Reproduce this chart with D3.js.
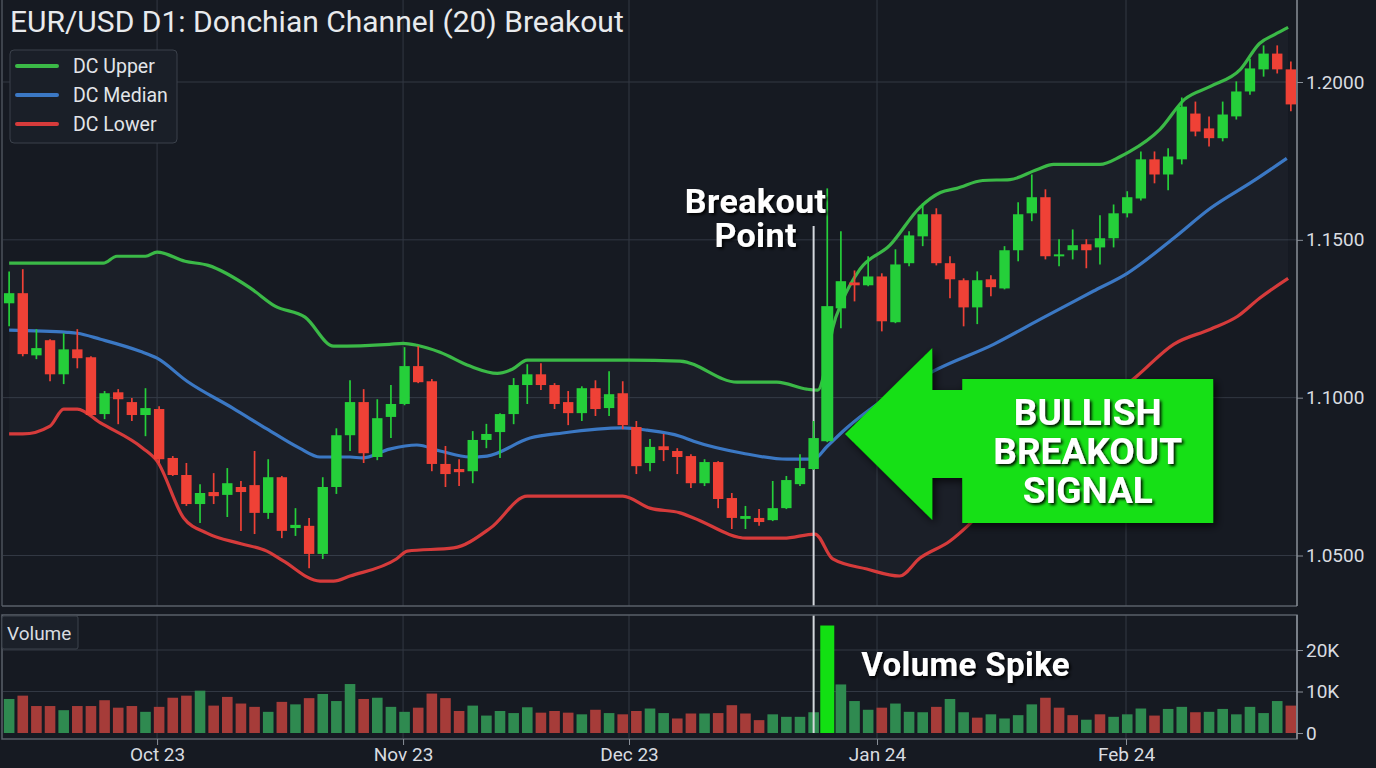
<!DOCTYPE html>
<html><head><meta charset="utf-8">
<script src="https://cdn.jsdelivr.net/npm/d3@7"></script>
<style>
html,body{margin:0;padding:0;background:#161a22;}
svg{display:block;font-family:Roboto,"Noto Sans",sans-serif;}
</style></head><body>
<svg id="chart" width="1376" height="768"></svg>
<script>
// ---------------- DATA ----------------
const opens = [1.1299,1.1331,1.1134,1.1182,1.1074,1.1153,1.1128,1.0948,1.1017,1.0986,1.0945,1.0964,1.0809,1.0755,1.0663,1.0701,1.0692,1.0717,1.0723,1.0635,1.0748,1.0587,1.0594,1.0505,1.0717,1.0881,1.0986,1.0812,1.0939,1.0980,1.1100,1.1052,1.0790,1.0774,1.0767,1.0866,1.0891,1.0948,1.1040,1.1074,1.1040,1.0986,1.0951,1.1030,1.0967,1.1014,1.0907,1.0793,1.0846,1.0831,1.0815,1.0729,1.0796,1.0682,1.0616,1.0619,1.0612,1.0650,1.0726,1.0774,1.0862,1.1283,1.1365,1.1356,1.1384,1.1239,1.1426,1.1511,1.1581,1.1426,1.1372,1.1286,1.1375,1.1346,1.1467,1.1584,1.1635,1.1451,1.1467,1.1486,1.1476,1.1505,1.1584,1.1631,1.1755,1.1707,1.1755,1.1900,1.1853,1.1822,1.1891,1.1970,1.2040,1.2090,1.2040];
const highs = [1.1400,1.1407,1.1217,1.1185,1.1204,1.1217,1.1131,1.1021,1.1027,1.0999,1.1030,1.0973,1.0815,1.0793,1.0726,1.0761,1.0777,1.0736,1.0831,1.0805,1.0752,1.0650,1.0619,1.0748,1.0903,1.1055,1.1027,1.0995,1.1040,1.1160,1.1163,1.1059,1.0847,1.0805,1.0894,1.0917,1.0951,1.1062,1.1106,1.1109,1.1046,1.1021,1.1036,1.1055,1.1084,1.1052,1.0926,1.0869,1.0885,1.0840,1.0821,1.0805,1.0799,1.0698,1.0657,1.0647,1.0736,1.0752,1.0821,1.0926,1.1663,1.1527,1.1403,1.1448,1.1394,1.1470,1.1527,1.1616,1.1600,1.1448,1.1378,1.1400,1.1388,1.1480,1.1619,1.1707,1.1660,1.1502,1.1533,1.1502,1.1578,1.1612,1.1654,1.1780,1.1780,1.1790,1.1951,1.1938,1.1891,1.1938,1.2002,1.2074,1.2116,1.2116,1.2065];
const lows = [1.1226,1.1131,1.1122,1.1052,1.1043,1.1093,1.0942,1.0932,1.0916,1.0926,1.0878,1.0793,1.0752,1.0657,1.0603,1.0663,1.0622,1.0578,1.0568,1.0616,1.0555,1.0562,1.0460,1.0489,1.0695,1.0831,1.0793,1.0802,1.0872,1.0976,1.1046,1.0767,1.0717,1.0720,1.0729,1.0840,1.0809,1.0916,1.0980,1.1024,1.0964,1.0913,1.0926,1.0942,1.0942,1.0900,1.0758,1.0767,1.0799,1.0758,1.0714,1.0720,1.0650,1.0584,1.0584,1.0594,1.0609,1.0647,1.0720,1.0771,1.0859,1.1220,1.1305,1.1353,1.1210,1.1236,1.1416,1.1480,1.1419,1.1315,1.1226,1.1233,1.1321,1.1343,1.1432,1.1559,1.1438,1.1416,1.1438,1.1410,1.1422,1.1476,1.1571,1.1625,1.1679,1.1657,1.1739,1.1828,1.1796,1.1812,1.1881,1.1960,1.2017,1.2027,1.1907];
const closes = [1.1331,1.1138,1.1157,1.1074,1.1153,1.1125,1.0945,1.1014,1.0995,1.0945,1.0967,1.0805,1.0755,1.0663,1.0698,1.0688,1.0729,1.0701,1.0635,1.0748,1.0578,1.0597,1.0505,1.0717,1.0881,1.0986,1.0824,1.0935,1.0980,1.1100,1.1049,1.0790,1.0758,1.0764,1.0866,1.0885,1.0948,1.1040,1.1074,1.1040,1.0980,1.0951,1.1030,1.0964,1.1011,1.0913,1.0783,1.0844,1.0834,1.0812,1.0729,1.0796,1.0679,1.0619,1.0625,1.0606,1.0650,1.0739,1.0777,1.0872,1.1290,1.1369,1.1356,1.1384,1.1242,1.1422,1.1514,1.1581,1.1426,1.1375,1.1286,1.1372,1.1350,1.1467,1.1581,1.1635,1.1448,1.1454,1.1483,1.1467,1.1505,1.1584,1.1635,1.1755,1.1707,1.1764,1.1922,1.1843,1.1822,1.1897,1.1970,1.2043,1.2090,1.2040,1.1929];
const volumes = [8200,9000,6500,6500,5500,6500,6500,7900,6100,6500,5100,6300,8500,9000,10200,6600,8700,7100,6300,5100,7500,6900,8400,9400,7700,11800,8200,8500,6300,5100,6100,9500,8400,5300,6600,4200,5300,4800,6200,4900,5300,4900,4500,5600,4800,4500,5300,5900,4800,3500,4700,4700,4800,6700,4700,3100,4500,3900,3900,5000,25900,11700,7700,5600,6100,7100,5100,5000,6300,8200,5000,3700,4500,3500,4300,6900,8500,6100,4300,3200,4500,3900,4500,5900,4200,5800,6300,5000,5100,5800,4500,6300,4800,7700,6600];
const volumeUp = [1,0,0,0,1,0,0,0,0,0,1,0,0,0,1,0,0,0,0,1,0,1,0,1,1,1,0,1,1,1,0,0,0,0,1,1,1,1,1,0,0,0,1,0,1,0,0,1,1,0,0,1,0,0,0,0,1,1,1,1,1,1,1,1,0,1,1,1,0,1,1,0,1,1,1,1,0,0,0,1,0,1,1,1,0,1,1,0,1,1,1,1,1,1,0];
// Donchian lines: [candle index, price]
const dcUpper = [[0,1.1426],[6.9,1.1426],[7.9,1.1448],[10.0,1.1448],[10.85,1.1461],[12.9,1.1432],[14.6,1.1419],[17.7,1.1347],[19.5,1.1290],[21.7,1.1255],[23.8,1.1163],[27.9,1.1169],[28.9,1.1172],[29.9,1.1166],[31.6,1.1144],[33.8,1.1100],[35.8,1.1077],[36.9,1.1090],[38.0,1.1119],[45.5,1.1119],[49.2,1.1116],[53.4,1.1049],[56.3,1.1049],[58.5,1.1027],[59.3,1.1024],[60.0,1.1125],[60.4,1.1220],[61.1,1.1305],[62.4,1.1407],[64.6,1.1483],[66.8,1.1603],[68.3,1.1650],[69.5,1.1663],[71.4,1.1688],[73.4,1.1691],[75.4,1.1723],[76.6,1.1739],[80.0,1.1739],[81.5,1.1764],[82.2,1.1780],[84.4,1.1850],[86.2,1.1945],[88.1,1.1986],[90.3,1.2040],[91.7,1.2122],[92.8,1.2150],[93.8,1.2173]];
const dcMedian = [[0,1.1214],[4.25,1.1207],[5.0,1.1204],[6.7,1.1185],[9.6,1.1147],[10.85,1.1125],[13.05,1.1052],[16.4,1.0967],[18.9,1.0901],[21.3,1.0840],[22.8,1.0812],[25.0,1.0812],[25.9,1.0809],[27.9,1.0837],[29.9,1.0850],[31.6,1.0831],[33.8,1.0812],[35.05,1.0815],[38.2,1.0872],[40.6,1.0888],[45.0,1.0904],[46.8,1.0897],[49.2,1.0878],[50.2,1.0862],[53.8,1.0824],[57.05,1.0805],[59.0,1.0805],[60.0,1.0846],[61.4,1.0903],[63.65,1.0979],[68.05,1.1090],[72.2,1.1169],[75.6,1.1248],[79.5,1.1337],[82.0,1.1394],[85.4,1.1505],[88.1,1.1600],[91.2,1.1685],[93.7,1.1758]];
const dcLower = [[0,1.0885],[1.0,1.0885],[3.0,1.0910],[4.0,1.0964],[5.0,1.0964],[6.7,1.0920],[9.8,1.0840],[10.85,1.0799],[12.8,1.0619],[14.5,1.0571],[17.0,1.0537],[18.9,1.0514],[20.1,1.0483],[22.8,1.0419],[23.8,1.0419],[25.0,1.0435],[28.4,1.0489],[29.2,1.0514],[32.6,1.0524],[35.3,1.0587],[38.0,1.0688],[45.0,1.0688],[47.0,1.0650],[49.2,1.0635],[50.2,1.0619],[54.1,1.0555],[56.8,1.0555],[59.1,1.0568],[60.4,1.0489],[62.9,1.0457],[65.3,1.0435],[66.8,1.0492],[69.0,1.0546],[70.3,1.0594],[72.7,1.0704],[76.3,1.0847],[80.0,1.0973],[82.7,1.1068],[85.4,1.1169],[88.1,1.1217],[90.1,1.1258],[91.7,1.1315],[93.8,1.1378]];
const priceTicks = [1.05, 1.10, 1.15, 1.20];
const volumeTicks = [0, 10000, 20000];
const monthTickIndex = [10.85, 28.89, 45.46, 63.65, 81.91];
const monthTickLabels = ["Oct 23", "Nov 23", "Dec 23", "Jan 24", "Feb 24"];
const legendLabels = ["DC Upper", "DC Median", "DC Lower"];
const titleText = "EUR/USD D1: Donchian Channel (20) Breakout";
const breakoutIndex = 59;
const spikeIndex = 60;
const signalLines = ["BULLISH", "BREAKOUT", "SIGNAL"];
// annotation anchor (data units)
const arrowTip = {i: 61.3, p: 1.0885};
const arrowHeadBase = 67.7;
const signalBox = {i0: 69.9, i1: 88.3, pTop: 1.1059, pBottom: 1.0603};

// ---------------- STYLE ----------------
const C = {
  bg: "#161a22", grid: "#323843", border: "#5a606a", axis: "#8a9099", text: "#d9dce0",
  up: "#25cf3a", down: "#ef4136", volUp: "#2f8a50", volDown: "#a63c39", spike: "#12e012",
  upper: "#3bb947", median: "#3b78c4", lower: "#d63b3b", arrow: "#12e012"
};
const W = 1376, H = 768;
const L = 3, R = 1297, mainTop = 0, mainBottom = 606, volTop = 615, volBottom = 739;

const svg = d3.select("#chart");
const defs = svg.append("defs");
const ts = defs.append("filter").attr("id","ts").attr("x","-20%").attr("y","-40%").attr("width","140%").attr("height","180%");
ts.append("feDropShadow").attr("dx",2).attr("dy",2).attr("stdDeviation",1.8).attr("flood-color","#000").attr("flood-opacity",0.95);
const as = defs.append("filter").attr("id","as").attr("x","-20%").attr("y","-20%").attr("width","140%").attr("height","140%");
as.append("feDropShadow").attr("dx",3).attr("dy",3).attr("stdDeviation",4).attr("flood-color","#000").attr("flood-opacity",0.75);
defs.append("clipPath").attr("id","mainClip").append("rect").attr("x",L).attr("y",mainTop).attr("width",R-L).attr("height",mainBottom-mainTop);
defs.append("clipPath").attr("id","volClip").append("rect").attr("x",L).attr("y",volTop).attr("width",R-L).attr("height",volBottom-volTop);

svg.append("rect").attr("width",W).attr("height",H).attr("fill",C.bg);

const x = d3.scaleLinear().domain([-0.45, 94.45]).range([L, R]);
const y = d3.scaleLinear().domain([1.05, 1.20]).range([555.5, 82]);
const yv = d3.scaleLinear().domain([0, 20000]).range([733, 650]);

// ---------------- GRID ----------------
const grid = svg.append("g");
grid.selectAll(".hg").data(priceTicks).join("line")
  .attr("x1",L).attr("x2",R).attr("y1",d=>y(d)).attr("y2",d=>y(d)).attr("stroke",C.grid).attr("stroke-width",1);
grid.selectAll(".vg").data(monthTickIndex).join("line")
  .attr("x1",d=>x(d)).attr("x2",d=>x(d)).attr("y1",mainTop).attr("y2",mainBottom).attr("stroke",C.grid).attr("stroke-width",1);
grid.selectAll(".vhg").data(volumeTicks.filter(d=>d>0)).join("line")
  .attr("x1",L).attr("x2",R).attr("y1",d=>yv(d)).attr("y2",d=>yv(d)).attr("stroke",C.grid).attr("stroke-width",1);
grid.selectAll(".vvg").data(monthTickIndex).join("line")
  .attr("x1",d=>x(d)).attr("x2",d=>x(d)).attr("y1",volTop).attr("y2",volBottom).attr("stroke",C.grid).attr("stroke-width",1);

// ---------------- MAIN PANEL ----------------
const main = svg.append("g").attr("clip-path","url(#mainClip)");
const lineGen = d3.line().x(d=>x(d[0])).y(d=>y(d[1])).curve(d3.curveMonotoneX);
const poly = dcUpper.concat(dcLower.slice().reverse());
main.append("path").attr("d", d3.line().x(d=>x(d[0])).y(d=>y(d[1]))(poly) + "Z")
  .attr("fill","#8ea3c0").attr("fill-opacity",0.045);

main.append("path").attr("d",lineGen(dcUpper)).attr("fill","none").attr("stroke",C.upper).attr("stroke-width",3.2).attr("stroke-linejoin","round");
main.append("path").attr("d",lineGen(dcMedian)).attr("fill","none").attr("stroke",C.median).attr("stroke-width",3.2).attr("stroke-linejoin","round");
main.append("path").attr("d",lineGen(dcLower)).attr("fill","none").attr("stroke",C.lower).attr("stroke-width",3.2).attr("stroke-linejoin","round");

main.append("line").attr("x1",x(breakoutIndex)).attr("x2",x(breakoutIndex)).attr("y1",226).attr("y2",mainBottom)
  .attr("stroke","#d4d8dd").attr("stroke-width",2);

const idx = d3.range(opens.length);
const cg = main.append("g");
const candle = cg.selectAll("g").data(idx).join("g");
const col = i => closes[i] >= opens[i] ? C.up : C.down;
candle.append("line").attr("x1",i=>x(i)).attr("x2",i=>x(i)).attr("y1",i=>y(highs[i])).attr("y2",i=>y(lows[i]))
  .attr("stroke",col).attr("stroke-width",1.7);
candle.append("rect")
  .attr("x",i=>x(i)-(i===spikeIndex?6:5.2)).attr("width",i=>i===spikeIndex?12:10.4)
  .attr("y",i=>y(Math.max(opens[i],closes[i])))
  .attr("height",i=>Math.max(2, Math.abs(y(opens[i])-y(closes[i]))))
  .attr("fill",col);

svg.append("line").attr("x1",L-1).attr("x2",L-1).attr("y1",0).attr("y2",mainBottom).attr("stroke",C.border).attr("stroke-width",1.2);
svg.append("line").attr("x1",L-1).attr("x2",R).attr("y1",mainBottom).attr("y2",mainBottom).attr("stroke",C.border).attr("stroke-width",1.5);
svg.append("line").attr("x1",R).attr("x2",R).attr("y1",0).attr("y2",mainBottom).attr("stroke",C.axis).attr("stroke-width",1.5);

const pa = svg.append("g").attr("transform",`translate(${R},0)`)
  .call(d3.axisRight(y).tickValues(priceTicks).tickFormat(d3.format(".4f")).tickSize(6).tickPadding(3));
pa.select(".domain").remove();
pa.selectAll(".tick line").attr("stroke",C.axis);
pa.selectAll("text").attr("fill",C.text).attr("font-size",19).attr("font-family","Roboto, sans-serif");

// ---------------- VOLUME PANEL ----------------
const vol = svg.append("g").attr("clip-path","url(#volClip)");
vol.selectAll("rect").data(idx).join("rect")
  .attr("x",i=>x(i)-(i===spikeIndex?7:5.3)).attr("width",i=>i===spikeIndex?14:10.6)
  .attr("y",i=>yv(volumes[i])).attr("height",i=>yv(0)-yv(volumes[i]))
  .attr("fill",i=>i===spikeIndex?C.spike:(volumeUp[i]?C.volUp:C.volDown));
vol.append("line").attr("x1",x(breakoutIndex)).attr("x2",x(breakoutIndex)).attr("y1",volTop).attr("y2",yv(0))
  .attr("stroke","#d4d8dd").attr("stroke-width",2);

svg.append("rect").attr("x",L-1).attr("y",volTop).attr("width",R-L+1).attr("height",volBottom-volTop)
  .attr("fill","none").attr("stroke",C.border).attr("stroke-width",1.5);
svg.append("line").attr("x1",R).attr("x2",R).attr("y1",volTop).attr("y2",volBottom).attr("stroke",C.axis).attr("stroke-width",1.5);

const va = svg.append("g").attr("transform",`translate(${R},0)`)
  .call(d3.axisRight(yv).tickValues(volumeTicks).tickFormat(d=>d===0?"0":(d/1000)+"K").tickSize(6).tickPadding(3));
va.select(".domain").remove();
va.selectAll(".tick line").attr("stroke",C.axis);
va.selectAll("text").attr("fill",C.text).attr("font-size",19).attr("font-family","Roboto, sans-serif");

svg.append("rect").attr("x",L-1).attr("y",volTop+1).attr("width",76).attr("height",33).attr("rx",2)
  .attr("fill","#1b2029").attr("stroke","#3d434d");
svg.append("text").attr("x",7).attr("y",640).attr("fill",C.text).attr("font-size",19).text("Volume");

const xa = svg.append("g").attr("transform",`translate(0,${volBottom})`)
  .call(d3.axisBottom(x).tickValues(monthTickIndex).tickFormat((d,i)=>monthTickLabels[i]).tickSize(6).tickPadding(3));
xa.select(".domain").remove();
xa.selectAll(".tick line").attr("stroke",C.axis);
xa.selectAll("text").attr("fill",C.text).attr("font-size",19).attr("font-family","Roboto, sans-serif");

// ---------------- TITLE & LEGEND ----------------
svg.append("text").attr("x",10).attr("y",32).attr("fill","#e8eaed").attr("font-size",30).text(titleText);
const lg = svg.append("g");
lg.append("rect").attr("x",10).attr("y",50).attr("width",167).attr("height",93).attr("rx",4)
  .attr("fill","#1a1f28").attr("stroke","#3b414b");
const legendColors = [C.upper, C.median, C.lower];
legendLabels.forEach((t,k)=>{
  const yy = 66 + k*29;
  lg.append("line").attr("x1",17).attr("x2",57).attr("y1",yy).attr("y2",yy).attr("stroke",legendColors[k]).attr("stroke-width",4).attr("stroke-linecap","round");
  lg.append("text").attr("x",73).attr("y",yy+7).attr("fill","#e2e5e9").attr("font-size",19.5).text(t);
});

// ---------------- ANNOTATIONS ----------------
const bx = x(breakoutIndex) - 58;
svg.append("text").attr("x",bx).attr("y",213).attr("text-anchor","middle").attr("fill","#fff")
  .attr("font-size",34).attr("font-weight",700).attr("letter-spacing",0.4).attr("filter","url(#ts)").text("Breakout");
svg.append("text").attr("x",bx).attr("y",247).attr("text-anchor","middle").attr("fill","#fff")
  .attr("font-size",34).attr("font-weight",700).attr("letter-spacing",0.4).attr("filter","url(#ts)").text("Point");

const tx = x(arrowTip.i), ty = y(arrowTip.p), hb = x(arrowHeadBase);
const headHalf = 86, shaftHalf = 44;
const bx0 = x(signalBox.i0), bx1 = x(signalBox.i1), by0 = y(signalBox.pTop), by1 = y(signalBox.pBottom);
const arrowPath = d3.path();
arrowPath.moveTo(tx,ty);
arrowPath.lineTo(hb,ty-headHalf);
arrowPath.lineTo(hb,ty-shaftHalf);
arrowPath.lineTo(bx0,ty-shaftHalf);
arrowPath.lineTo(bx0,by0);
arrowPath.lineTo(bx1,by0);
arrowPath.lineTo(bx1,by1);
arrowPath.lineTo(bx0,by1);
arrowPath.lineTo(bx0,ty+shaftHalf);
arrowPath.lineTo(hb,ty+shaftHalf);
arrowPath.lineTo(hb,ty+headHalf);
arrowPath.closePath();
svg.append("path").attr("d",arrowPath.toString()).attr("fill",C.arrow).attr("filter","url(#as)");
const cx = (bx0+bx1)/2;
signalLines.forEach((t,k)=>{
  svg.append("text").attr("x",cx).attr("y",425+k*39).attr("text-anchor","middle").attr("fill","#fff")
    .attr("font-size",37).attr("font-weight",700).attr("filter","url(#ts)").text(t);
});

svg.append("text").attr("x",x(spikeIndex)+34).attr("y",676).attr("fill","#fff")
  .attr("font-size",33).attr("font-weight",700).attr("letter-spacing",0.4).attr("filter","url(#ts)").text("Volume Spike");
</script>
</body></html>
